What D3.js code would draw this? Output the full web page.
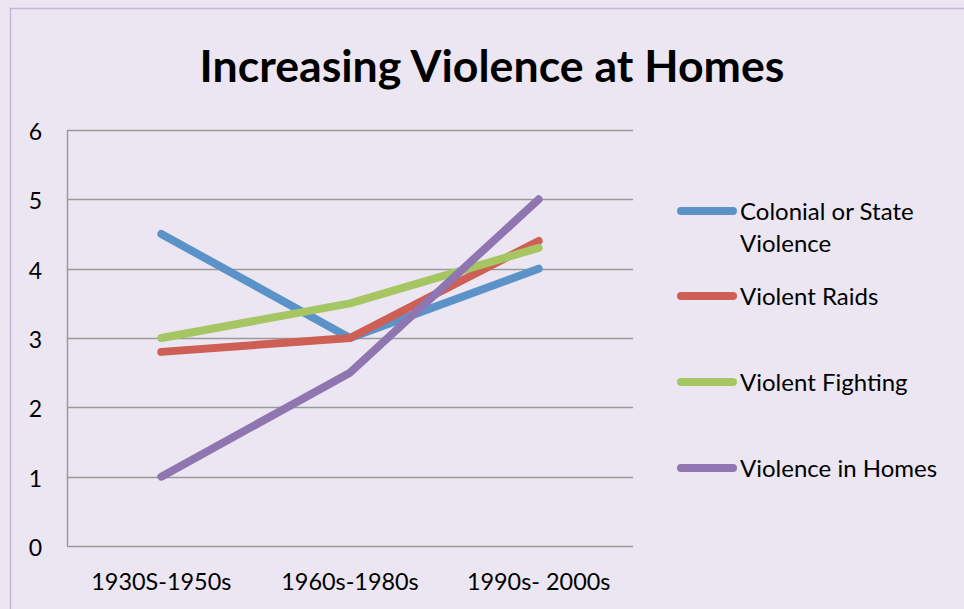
<!DOCTYPE html>
<html>
<head>
<meta charset="utf-8">
<script src="https://cdn.jsdelivr.net/npm/d3@7"></script>
<style>
  body { margin: 0; background: #ebe6f1; }
  svg { display: block; font-family: Lato, "Open Sans", sans-serif; }
</style>
</head>
<body>
<div id="chart"></div>
<script>
// chart data
const categories = ["1930S-1950s", "1960s-1980s", "1990s- 2000s"];
const seriesNames = ["Colonial or State Violence", "Violent Raids", "Violent Fighting", "Violence in Homes"];
const colonialValues = [4.5, 3, 4];
const raidsValues = [2.8, 3, 4.4];
const fightingValues = [3, 3.5, 4.3];
const homesValues = [1, 2.5, 5];
const yTicks = [0, 1, 2, 3, 4, 5, 6];
const seriesColors = ["#5b93c9", "#cd5f55", "#a6c664", "#8f76b1"];

const series = [colonialValues, raidsValues, fightingValues, homesValues].map((vals, i) => ({
    name: seriesNames[i],
    color: seriesColors[i],
    values: vals
}));

const width = 964;
const height = 609;
const margin = { top: 130, left: 67, right: 331, bottom: 63 };

const svg = d3.select("#chart").append("svg")
    .attr("width", width)
    .attr("height", height);

// background + outer border (only top/left edges visible in frame)
svg.append("rect")
    .attr("x", 10.5).attr("y", 8.5)
    .attr("width", width).attr("height", height)
    .attr("fill", "#ebe6f1")
    .attr("stroke", "#c4b6da")
    .attr("stroke-width", 1.5);

// title
const title = svg.append("text")
    .attr("x", 492)
    .attr("y", 82)
    .attr("text-anchor", "middle")
    .attr("font-weight", "bold")
    .attr("font-size", 40)
    .attr("fill", "#000")
    .text("Increasing Violence at Homes");
// fit title to the reference width
const tw = title.node().getComputedTextLength();
title.attr("font-size", 40 * 585 / tw);

const x = d3.scalePoint()
    .domain(categories)
    .range([margin.left, width - margin.right])
    .padding(0.5);

const y = d3.scaleLinear()
    .domain([0, 6])
    .range([height - margin.bottom, margin.top]);

// gridlines
svg.append("g")
    .selectAll("line")
    .data(yTicks)
    .join("line")
    .attr("x1", margin.left)
    .attr("x2", width - margin.right)
    .attr("y1", d => Math.round(y(d)) + 0.5)
    .attr("y2", d => Math.round(y(d)) + 0.5)
    .attr("stroke", "#9a9a9a")
    .attr("stroke-width", 1.5);

// y axis line
svg.append("line")
    .attr("x1", margin.left + 0.5).attr("x2", margin.left + 0.5)
    .attr("y1", y(6)).attr("y2", y(0))
    .attr("stroke", "#9a9a9a")
    .attr("stroke-width", 1.5);

// y tick labels
svg.append("g")
    .selectAll("text")
    .data(yTicks)
    .join("text")
    .attr("x", 42)
    .attr("y", d => y(d) + 10)
    .attr("text-anchor", "end")
    .attr("font-size", 23)
    .attr("fill", "#000")
    .text(d => d);

// x tick labels
svg.append("g")
    .selectAll("text")
    .data(categories)
    .join("text")
    .attr("x", d => x(d))
    .attr("y", 590)
    .attr("text-anchor", "middle")
    .attr("font-size", 23.4)
    .attr("fill", "#000")
    .text(d => d);

// lines
const line = d3.line()
    .x((d, i) => x(categories[i]))
    .y(d => y(d));

svg.append("g")
    .selectAll("path")
    .data(series)
    .join("path")
    .attr("d", d => line(d.values))
    .attr("fill", "none")
    .attr("stroke", d => d.color)
    .attr("stroke-width", 8)
    .attr("stroke-linecap", "round")
    .attr("stroke-linejoin", "round");

// legend
const legendY = [211, 296, 382, 468];
const legend = svg.append("g")
    .selectAll("g")
    .data(series)
    .join("g")
    .attr("transform", (d, i) => `translate(0,${legendY[i]})`);

legend.append("line")
    .attr("x1", 681).attr("x2", 733)
    .attr("stroke", d => d.color)
    .attr("stroke-width", 8)
    .attr("stroke-linecap", "round");

legend.each(function (d, i) {
    const g = d3.select(this);
    const lines = i === 0 ? ["Colonial or State", "Violence"] : [d.name];
    lines.forEach((t, j) => {
        g.append("text")
            .attr("x", 740)
            .attr("y", 9 + j * 32)
            .attr("font-size", 24)
            .attr("fill", "#000")
            .text(t);
    });
});
</script>
</body>
</html>
